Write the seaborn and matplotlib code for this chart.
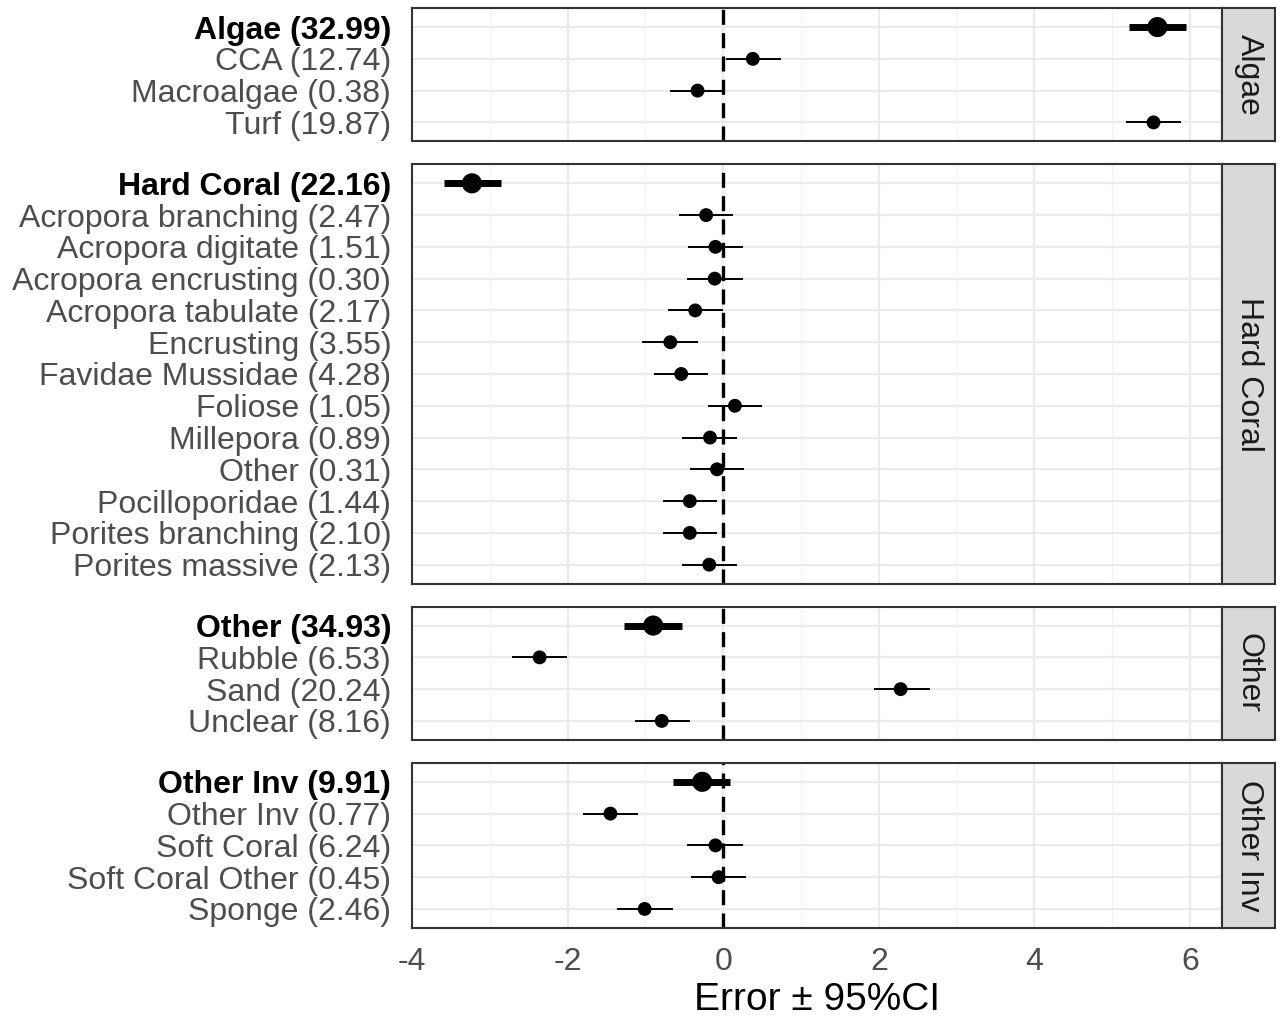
import matplotlib
matplotlib.use("Agg")
import matplotlib.pyplot as plt
import seaborn as sns
import pandas as pd

# one entry per row: group, label, estimate, lower, upper, is_total
groups = ["Algae", "Hard Coral", "Other", "Other Inv"]

row_group = (["Algae"] * 4 + ["Hard Coral"] * 13 + ["Other"] * 4 + ["Other Inv"] * 5)
row_label = [
    "Algae (32.99)", "CCA (12.74)", "Macroalgae (0.38)", "Turf (19.87)",
    "Hard Coral (22.16)", "Acropora branching (2.47)", "Acropora digitate (1.51)",
    "Acropora encrusting (0.30)", "Acropora tabulate (2.17)", "Encrusting (3.55)",
    "Favidae Mussidae (4.28)", "Foliose (1.05)", "Millepora (0.89)", "Other (0.31)",
    "Pocilloporidae (1.44)", "Porites branching (2.10)", "Porites massive (2.13)",
    "Other (34.93)", "Rubble (6.53)", "Sand (20.24)", "Unclear (8.16)",
    "Other Inv (9.91)", "Other Inv (0.77)", "Soft Coral (6.24)",
    "Soft Coral Other (0.45)", "Sponge (2.46)",
]
row_est = [5.58, 0.38, -0.33, 5.53,
           -3.23, -0.22, -0.10, -0.11, -0.36, -0.68, -0.54, 0.15, -0.17, -0.08, -0.43, -0.43, -0.18,
           -0.90, -2.36, 2.28, -0.79,
           -0.27, -1.45, -0.10, -0.06, -1.01]
row_low = [5.22, 0.03, -0.69, 5.18,
           -3.59, -0.57, -0.45, -0.46, -0.71, -1.04, -0.89, -0.20, -0.53, -0.43, -0.78, -0.78, -0.53,
           -1.27, -2.71, 1.94, -1.14,
           -0.64, -1.80, -0.46, -0.41, -1.36]
row_high = [5.95, 0.74, 0.02, 5.88,
            -2.86, 0.12, 0.26, 0.25, 0.00, -0.33, -0.20, 0.50, 0.18, 0.27, -0.08, -0.08, 0.18,
            -0.53, -2.01, 2.66, -0.43,
            0.09, -1.10, 0.25, 0.29, -0.65]
row_total = ([True, False, False, False]
             + [True] + [False] * 12
             + [True, False, False, False]
             + [True, False, False, False, False])

x_ticks = [-4, -2, 0, 2, 4, 6]

df = pd.DataFrame({"group": row_group, "label": row_label, "est": row_est,
                   "low": row_low, "high": row_high, "total": row_total})
df["pos"] = df.groupby("group").cumcount()

sns.set_theme(style="white")
plt.rcParams["font.family"] = ["Liberation Sans", "DejaVu Sans"]

FS = 23
counts = [int((df["group"] == g).sum()) for g in groups]
fig = plt.figure(figsize=(12.82, 10.18), dpi=100)
gs = fig.add_gridspec(len(groups), 1, height_ratios=[c + 0.2 for c in counts],
                      left=412 / 1282, right=1222 / 1282, top=1 - 8 / 1018,
                      bottom=1 - 928 / 1018, hspace=0.107)

xlim = (-4.0, 6.41)
for i, g in enumerate(groups):
    ax = fig.add_subplot(gs[i])
    sub = df[df["group"] == g]
    n = len(sub)
    ax.set_xlim(*xlim)
    ax.set_ylim(n - 1 + 0.6, -0.6)
    # ggplot-like grid
    for xm in range(-4, 7, 2):
        ax.axvline(xm, color="#EBEBEB", lw=1.6, zorder=0)
    for xm in range(-3, 7, 2):
        ax.axvline(xm, color="#F2F2F2", lw=0.9, zorder=0)
    for p in sub["pos"]:
        ax.axhline(p, color="#EBEBEB", lw=1.6, zorder=0)
    ax.axvline(0, color="black", lw=2.4, ls=(0, (4.5, 2.5)), zorder=1)

    tot = sub[sub["total"]]
    kids = sub[~sub["total"]]
    ax.hlines(kids["pos"], kids["low"], kids["high"], color="black", lw=1.4, zorder=2)
    ax.hlines(tot["pos"], tot["low"], tot["high"], color="black", lw=5, zorder=2)
    sns.scatterplot(data=kids, x="est", y="pos", ax=ax, color="black", s=100,
                    edgecolor="none", zorder=3, legend=False)
    sns.scatterplot(data=tot, x="est", y="pos", ax=ax, color="black", s=210,
                    edgecolor="none", zorder=3, legend=False)

    ax.set_yticks(list(sub["pos"]))
    ax.set_yticklabels(list(sub["label"]), fontsize=FS)
    for lab, is_tot in zip(ax.get_yticklabels(), sub["total"]):
        if is_tot:
            lab.set_color("black")
            lab.set_fontweight("bold")
        else:
            lab.set_color("#4D4D4D")
    ax.set_xticks(x_ticks)
    ax.set_xlabel("")
    ax.set_ylabel("")
    ax.tick_params(axis="y", length=5, width=1.3, color="#333333", pad=10)
    if i < len(groups) - 1:
        ax.tick_params(axis="x", length=0, labelbottom=False)
    else:
        ax.tick_params(axis="x", length=5, width=1.3, color="#333333", pad=9,
                       labelsize=FS, labelcolor="#4D4D4D")
        ax.set_xticklabels([str(t) for t in x_ticks])
        ax.set_xlabel("Error \u00b1 95%CI", fontsize=28, color="black", labelpad=3)
    for sp in ax.spines.values():
        sp.set_color("#333333")
        sp.set_linewidth(1.5)
        sp.set_visible(True)

    # facet strip on the right
    strip = ax.inset_axes([1.0, 0.0, 53 / 810, 1.0])
    strip.set_xticks([])
    strip.set_yticks([])
    strip.set_facecolor("#D9D9D9")
    for sp in strip.spines.values():
        sp.set_color("#333333")
        sp.set_linewidth(1.5)
    strip.text(0.5, 0.5, g, rotation=-90, ha="center", va="center",
               fontsize=FS, color="#1A1A1A", transform=strip.transAxes)

fig.savefig("out.png", dpi=100)
